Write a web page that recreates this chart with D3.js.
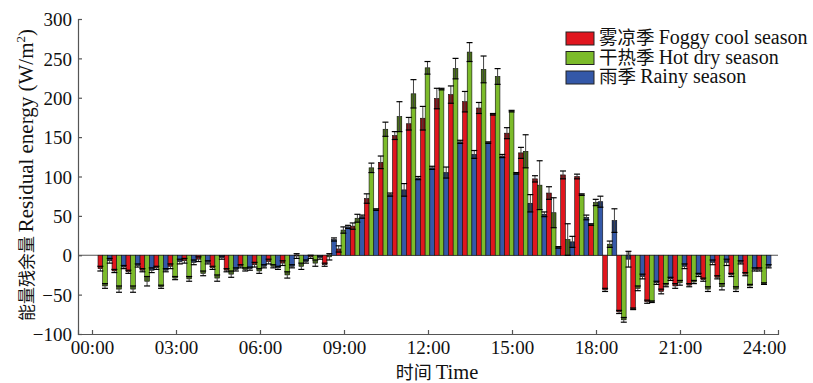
<!DOCTYPE html>
<html>
<head>
<meta charset="utf-8">
<script src="https://cdn.jsdelivr.net/npm/d3@7"></script>
<style>
  body { margin: 0; background: #fff; }
  svg text { font-family: "Liberation Serif", "Times New Roman", "Noto Sans CJK SC", serif; fill: #111; }
  .cjk { font-family: "Noto Sans CJK SC", sans-serif; }
</style>
</head>
<body>
<div id="chart"></div>
<script>
// half-hour slots, 00:30 .. 24:00
const times = ["00:30","01:00","01:30","02:00","02:30","03:00","03:30","04:00","04:30","05:00","05:30","06:00",
  "06:30","07:00","07:30","08:00","08:30","09:00","09:30","10:00","10:30","11:00","11:30","12:00",
  "12:30","13:00","13:30","14:00","14:30","15:00","15:30","16:00","16:30","17:00","17:30","18:00",
  "18:30","19:00","19:30","20:00","20:30","21:00","21:30","22:00","22:30","23:00","23:30","24:00"];

const foggy = [-17,-20,-21,-19,-16,-14,-7,-5,-16,-19,-14,-12,-8,-10,-1,-2,-12,8,37,72,118,152,167,174,
  199,204,195,187,179,155,130,97,79,102,100,39,-44,-72,-68,-59,-46,-39,-38,-31,-28,-25,-24,-18];
const hotDry = [-39,-43,-43,-33,-40,-29,-30,-23,-29,-24,-18,-20,-14,-25,-14,-10,-2,32,47,111,160,176,205,238,
  211,237,258,236,227,183,132,89,54,20,77,67,14,-82,-42,-59,-38,-35,-34,-43,-40,-43,-39,-36];
const rainy = [-7,-15,-13,-19,-19,-8,-9,-9,-3,-18,-17,-14,-16,-14,-8,-3,20,36,49,58,77,83,98,111,
  105,144,128,143,126,104,66,52,10,17,48,68,44,-5,-27,-35,-30,-14,-25,-9,-9,-9,-18,-14];

const foggyErr = [3,2,2,2,2,3,3,3,2,2,2,3,3,3,3,2,2,4,4,6,8,5,8,15,13,11,13,7,1,7,7,4,8,5,3,1,2,2,1,2,3,3,2,2,2,2,2,2];
const hotDryErr = [3,4,4,6,2,2,3,3,4,4,2,3,2,4,4,4,4,4,5,6,9,19,18,8,1,13,12,17,10,1,21,31,19,20,1,4,4,3,3,1,2,3,2,3,4,3,2,1];
const rainyErr = [3,2,2,3,2,3,3,2,2,2,2,2,2,2,2,2,2,2,2,1,2,8,2,2,7,2,5,1,2,1,11,3,1,7,3,7,15,10,3,2,2,3,2,3,4,2,2,2];

const seriesCjk = ["雾凉季", "干热季", "雨季"];
const seriesEn = ["Foggy cool season", "Hot dry season", "Rainy season"];
const seriesColors = ["#e0161e", "#7cbb2a", "#3458a8"];
const xTickLabels = ["00:00","03:00","06:00","09:00","12:00","15:00","18:00","21:00","24:00"];
const xTickHours = [0, 3, 6, 9, 12, 15, 18, 21, 24];
const yTicks = [-100, -50, 0, 50, 100, 150, 200, 250, 300];

const width = 813, height = 383;
const svg = d3.select("#chart").append("svg")
  .attr("width", width).attr("height", height);

// scales
const xHour = d3.scaleLinear().domain([-0.5, 24.5]).range([78, 778]);
const y = d3.scaleLinear().domain([-100, 300]).range([334, 19]);
const x0 = d3.scaleBand().domain(times).range([98, 771]).padding(0);
const x1 = d3.scaleBand().domain([0, 1, 2]).range([0, x0.bandwidth()]).padding(0);

const values = [foggy, hotDry, rainy];
const errs = [foggyErr, hotDryErr, rainyErr];
const bars = [];
times.forEach((t, i) => {
  for (let s = 0; s < 3; s++) bars.push({ t, s, v: values[s][i], e: errs[s][i] });
});

// zero line
svg.append("line")
  .attr("x1", 78).attr("x2", 778)
  .attr("y1", y(0)).attr("y2", y(0))
  .attr("stroke", "#555").attr("stroke-width", 1.2);

// bars
const g = svg.append("g");
g.selectAll("rect.bar")
  .data(bars)
  .enter()
  .append("rect")
  .attr("class", "bar")
  .attr("x", d => x0(d.t) + x1(d.s))
  .attr("width", x1.bandwidth())
  .attr("y", d => y(Math.max(0, d.v)))
  .attr("height", d => Math.abs(y(d.v) - y(0)))
  .attr("fill", d => seriesColors[d.s])
  .attr("stroke", "#111")
  .attr("stroke-width", 0.6);

// error bars
const eg = svg.append("g");
bars.forEach(d => {
  const sgn = d.v >= 0 ? 1 : -1;
  const outer = d.v + sgn * d.e;
  const inner = d.v - sgn * d.e;
  const bx = x0(d.t) + x1(d.s);
  const cx = bx + x1.bandwidth() / 2;
  eg.append("rect")
    .attr("x", bx)
    .attr("width", x1.bandwidth())
    .attr("y", Math.min(y(d.v), y(inner)))
    .attr("height", Math.abs(y(d.v) - y(inner)))
    .attr("fill", "#000").attr("opacity", 0.4);
  eg.append("line")
    .attr("x1", cx).attr("x2", cx)
    .attr("y1", y(inner)).attr("y2", y(outer))
    .attr("stroke", "#444").attr("stroke-width", 1);
  [inner, outer].forEach(v => {
    eg.append("line")
      .attr("x1", cx - 3).attr("x2", cx + 3)
      .attr("y1", y(v)).attr("y2", y(v))
      .attr("stroke", "#000").attr("stroke-width", 1.2);
  });
});

// y axis
const yAxis = svg.append("g")
  .attr("transform", "translate(78,0)")
  .call(d3.axisLeft(y).tickValues(yTicks).tickSize(-4).tickPadding(6)
    .tickFormat(d => d < 0 ? "\u2212" + Math.abs(d) : d));
yAxis.select(".domain").attr("stroke", "#555").attr("stroke-width", 1.2);
yAxis.selectAll(".tick line").attr("stroke", "#555").attr("stroke-width", 1.2);
yAxis.selectAll("text").attr("font-size", 19).attr("dy", "0.35em");

// x axis
const xAxis = svg.append("g")
  .attr("transform", "translate(0,334)")
  .call(d3.axisBottom(xHour).tickValues(xTickHours).tickSize(-4).tickPadding(6)
    .tickFormat((d, i) => xTickLabels[i]));
xAxis.select(".domain").attr("stroke", "#555").attr("stroke-width", 1.2);
xAxis.selectAll(".tick line").attr("stroke", "#555").attr("stroke-width", 1.2);
xAxis.selectAll("text").attr("font-size", 19).attr("dy", "0.75em");

// axis titles
const yTitle = svg.append("text")
  .attr("transform", "translate(33,175) rotate(-90)")
  .attr("text-anchor", "middle");
yTitle.append("tspan").attr("class", "cjk").attr("font-size", 17).text("能量残余量 ");
yTitle.append("tspan").attr("font-size", 21).text("Residual energy (W/m");
yTitle.append("tspan").attr("font-size", 13).attr("dy", -8).text("2");
yTitle.append("tspan").attr("font-size", 21).attr("dy", 8).text(")");

const xTitle = svg.append("text")
  .attr("x", 437).attr("y", 379)
  .attr("text-anchor", "middle");
xTitle.append("tspan").attr("class", "cjk").attr("font-size", 18).text("时间 ");
xTitle.append("tspan").attr("font-size", 20.5).text("Time");

// legend
const legend = svg.append("g").attr("transform", "translate(566,32)");
seriesEn.forEach((name, i) => {
  const row = legend.append("g").attr("transform", `translate(0,${i * 19.5})`);
  row.append("rect")
    .attr("width", 28).attr("height", 13)
    .attr("fill", seriesColors[i])
    .attr("stroke", "#222").attr("stroke-width", 1);
  const t = row.append("text").attr("x", 33).attr("y", 12);
  t.append("tspan").attr("class", "cjk").attr("font-size", 18.5).text(seriesCjk[i] + " ");
  t.append("tspan").attr("font-size", 20).text(name);
});
</script>
</body>
</html>
